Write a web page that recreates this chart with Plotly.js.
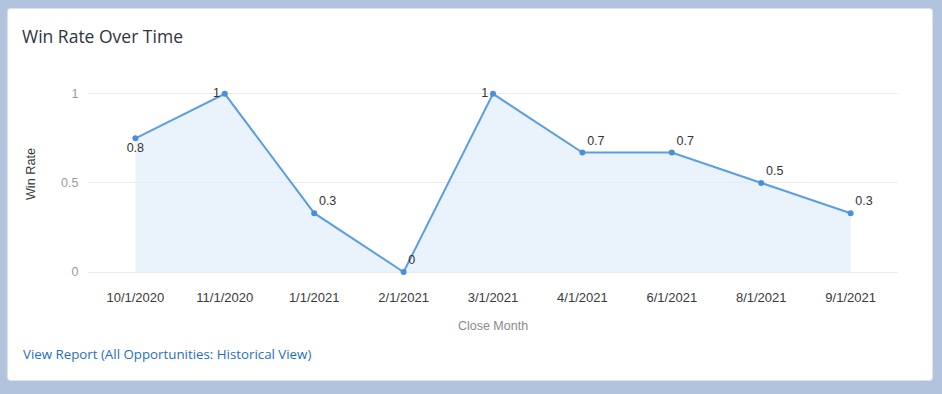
<!DOCTYPE html>
<html>
<head>
<meta charset="utf-8">
<script src="https://cdn.plot.ly/plotly-3.0.1.min.js"></script>
<style>
  html, body { margin:0; padding:0; width:942px; height:394px; background:#b2c4dd; overflow:hidden; }
  #card { position:absolute; left:8px; top:9px; width:924px; height:371px; background:#ffffff; border-radius:3px; box-shadow:0 0 0 1px #dde3ec; }
  #chart { position:absolute; left:0; top:0; width:942px; height:394px; }
</style>
</head>
<body>
<div id="card"></div>
<div id="chart"></div>
<script>
const months = ['10/1/2020','11/1/2020','1/1/2021','2/1/2021','3/1/2021','4/1/2021','6/1/2021','8/1/2021','9/1/2021'];
const winRate = [0.75, 1, 0.33, 0, 1, 0.67, 0.67, 0.5, 0.33];
const labelPositions = ['bottom center','middle left','top right','top right','middle left','top right','top right','top right','top right'];
const chartTitle = 'Win Rate Over Time';
const xTitle = 'Close Month';
const yTitle = 'Win Rate';
const linkText = 'View Report (All Opportunities: Historical View)';

const trace = {
  x: months,
  y: winRate,
  type: 'scatter',
  mode: 'lines+markers+text',
  fill: 'tozeroy',
  fillcolor: 'rgba(222,236,250,0.65)',
  line: { color: '#5b9ee3', width: 2 },
  marker: { color: '#4a8fdc', size: 6 },
  texttemplate: '%{y:.1~f}',
  textposition: labelPositions,
  textfont: { family: 'Liberation Sans, Arial, sans-serif', size: 12.5, color: '#333333' },
  cliponaxis: false,
  hoverinfo: 'skip'
};

const layout = {
  width: 942, height: 394,
  paper_bgcolor: 'rgba(0,0,0,0)',
  plot_bgcolor: 'rgba(0,0,0,0)',
  margin: { l: 88, r: 44, t: 76, b: 122 },
  showlegend: false,
  title: {
    text: chartTitle,
    x: 22/942, xanchor: 'left', xref: 'container',
    y: 1 - 37/394, yanchor: 'middle', yref: 'container',
    font: { family: 'Open Sans, sans-serif', size: 17.5, color: '#2f3440' }
  },
  xaxis: {
    type: 'category',
    range: [-0.53, 8.53],
    showgrid: false,
    zeroline: false,
    showline: false,
    ticks: 'outside', ticklen: 13, tickcolor: 'rgba(0,0,0,0)',
    tickfont: { family: 'Liberation Sans, Arial, sans-serif', size: 13, color: '#3a3a3a' },
    title: { text: xTitle, standoff: 17, font: { family: 'Liberation Sans, Arial, sans-serif', size: 12.5, color: '#8a8a8a' } },
    fixedrange: true
  },
  yaxis: {
    range: [0, 1.1],
    tickvals: [0, 0.5, 1],
    ticktext: ['0', '0.5', '1'],
    showgrid: true, gridcolor: '#ececec', gridwidth: 1,
    zeroline: true, zerolinecolor: '#ececec', zerolinewidth: 1,
    showline: false,
    ticks: 'outside', ticklen: 6, tickcolor: 'rgba(0,0,0,0)',
    tickfont: { family: 'Liberation Sans, Arial, sans-serif', size: 12.5, color: '#9a9a9a' },
    title: { text: yTitle, standoff: 22, font: { family: 'Liberation Sans, Arial, sans-serif', size: 12.7, color: '#3a3a3a' } },
    fixedrange: true
  },
  annotations: [{
    text: linkText,
    xref: 'paper', yref: 'paper',
    x: (21-88)/810, xanchor: 'left',
    y: (394-122-354)/196, yanchor: 'middle',
    showarrow: false,
    font: { family: 'Open Sans, sans-serif', size: 13.3, color: '#1f6fbf' }
  }]
};

Plotly.newPlot('chart', [trace], layout, { displayModeBar: false, staticPlot: true });
</script>
</body>
</html>
